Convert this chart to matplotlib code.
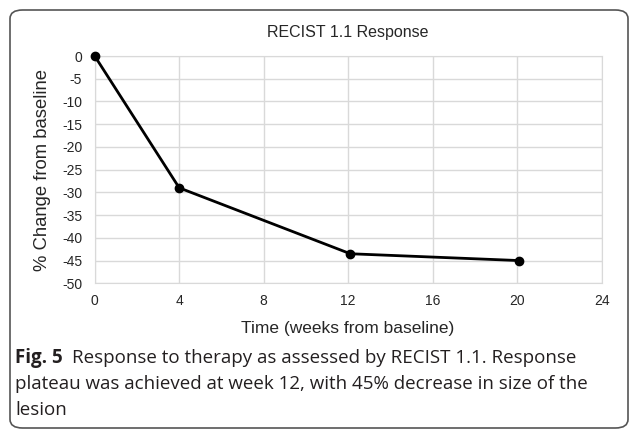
import matplotlib.pyplot as plt
from matplotlib.patches import FancyBboxPatch
from matplotlib.ticker import FuncFormatter

weeks = [0, 4, 12.1, 20.1]
change = [0, -29, -43.5, -45]
xticks = [0, 4, 8, 12, 16, 20, 24]
yticks = [0, -5, -10, -15, -20, -25, -30, -35, -40, -45, -50]

plt.rcParams['font.family'] = ['Liberation Sans', 'DejaVu Sans']

W, H = 629, 430
fig = plt.figure(figsize=(W / 100, H / 100), dpi=100)

# rounded frame round the whole figure
frame = FancyBboxPatch((10 / W, 2 / H), 618 / W, 418 / H,
                       boxstyle="round,pad=0,rounding_size=0.02",
                       transform=fig.transFigure, fill=False,
                       edgecolor='#555555', linewidth=1.2)
fig.patches.append(frame)

ax = fig.add_axes([94.7 / W, 1 - 283.3 / H, 507 / W, 227.3 / H])
ax.plot(weeks, change, color='black', lw=2.0, marker='o', ms=6, zorder=3,
        clip_on=False)
ax.set_xlim(0, 24)
ax.set_ylim(-50, 0)
ax.set_xticks(xticks)
ax.set_yticks(yticks)
ax.yaxis.set_major_formatter(FuncFormatter(lambda v, p: '%d' % v))
ax.grid(True, color='#d9d9d9', lw=1.0)
for sp in ax.spines.values():
    sp.set_color('#d9d9d9')
ax.tick_params(length=0, labelsize=10, colors='#262626')
ax.tick_params(axis='x', pad=8)
ax.tick_params(axis='y', pad=9)

fig.text(348 / W, 1 - 32 / H, 'RECIST 1.1 Response', ha='center', va='center',
         fontsize=11.5, color='#262626')
fig.text(43 / W, 1 - 170 / H, '% Change from baseline', ha='center',
         va='center', rotation=90, fontsize=13.3, color='#262626')
fig.text(348 / W, 1 - 333 / H, 'Time (weeks from baseline)', ha='center',
         va='baseline', fontsize=12.5, color='#262626')

cap_font = ['Open Sans', 'DejaVu Sans']
cap = dict(ha='left', va='baseline', fontsize=13.5, family=cap_font,
           color='#231f20')
fig.text(15 / W, 1 - 363 / H, 'Fig. 5', fontweight='bold', **cap)
fig.text(72 / W, 1 - 363 / H,
         'Response to therapy as assessed by RECIST 1.1. Response', **cap)
fig.text(15 / W, 1 - 389 / H,
         'plateau was achieved at week 12, with 45% decrease in size of the',
         **cap)
fig.text(15 / W, 1 - 415 / H, 'lesion', **cap)

fig.savefig('out.png', dpi=100)
